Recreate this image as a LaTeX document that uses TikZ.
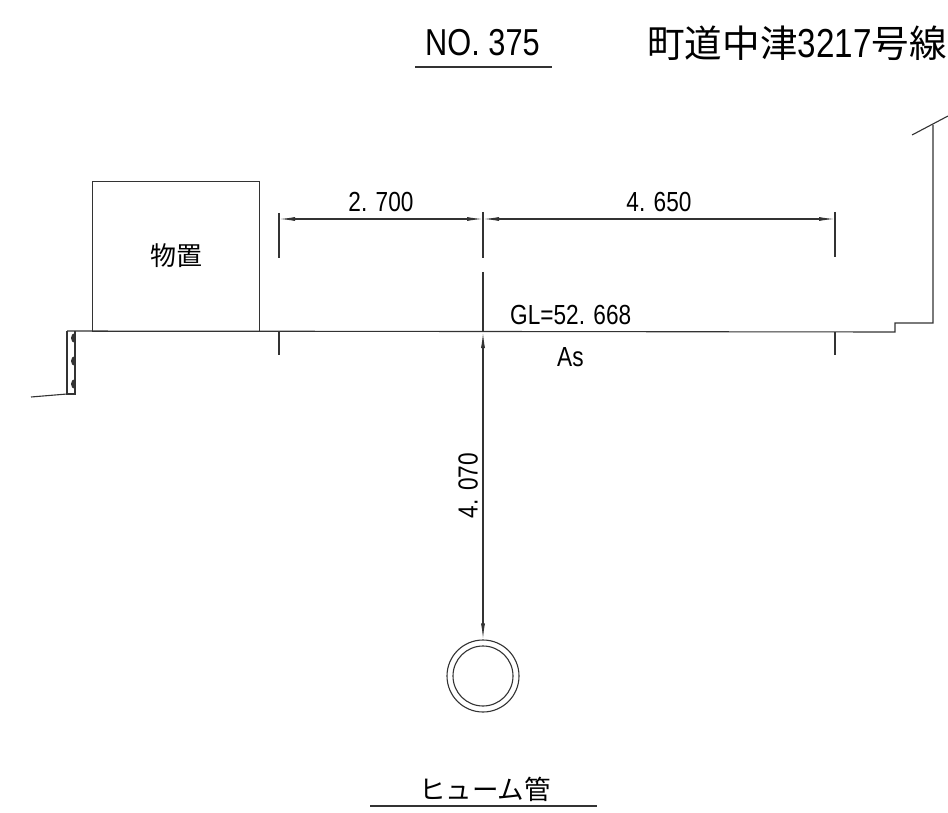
\documentclass[tikz,border=0pt]{standalone}
\usepackage{fontspec}
\setmainfont{Noto Sans CJK JP}
\newfontfamily\cadfont[FakeStretch=0.82]{Liberation Sans}
\usetikzlibrary{positioning, arrows.meta, calc}

\begin{document}
\begin{tikzpicture}[x=1pt, y=-1pt,
		myline/.style={draw=black!80, line width=1.1pt},
		dimline/.style={myline, {Latex[length=16pt,width=4pt]}-{Latex[length=16pt,width=4pt]}},
		dimtext/.style={font=\cadfont\fontsize{27.6}{27.6}\selectfont, inner sep=0pt, text=black},
		jptext/.style={inner sep=0pt, text=black}]
		
		\useasboundingbox (0,0) rectangle (948,813);
		
		% title
		\node[dimtext, font=\cadfont\fontsize{37.5}{37.5}\selectfont] at (482.5,43) (number) {NO. 375};
		\node[jptext, font=\fontsize{37.6}{37.6}\selectfont, anchor=west] at (647,43) (route) {町道中津{\cadfont\fontsize{40.5}{40.5}\selectfont 3217}号線};
		\draw[myline] (415,67) -- (552,67);
		
		% shed
		\node[myline, minimum width=167pt, minimum height=150pt, inner sep=0pt, anchor=north west] at (92,181) (shed) {};
		\node[jptext, font=\fontsize{26}{26}\selectfont] at (176.5,256) (shedtext) {物置};
		
		% ground
		\coordinate (gndL) at (67,331);
		\coordinate (gndR) at (895,332);
		\coordinate (wallT) at (933,323);
		\draw[myline] (gndL) -- (gndR) -- (895,323) -- (wallT) -- (933,125);
		\draw[myline] (912,135) -- (948,116);
		\draw[myline] (gndL) -- (67,394) -- (75,394) -- (75,331);
		\draw[myline] (31,397) -- (67,394);
		\foreach \y in {338,361,384}
		\fill[black!80] (75,\y-5) arc (90:270:4pt and 5pt) -- cycle;
		
		% dimension lines
		\coordinate (dimL) at (279,219);
		\coordinate (dimM) at (483,219);
		\coordinate (dimR) at (835,219);
		\draw[dimline] (dimL) -- (dimM) node[dimtext, midway, yshift=17pt] (distA) {2. 700};
		\draw[dimline] (dimM) -- (dimR) node[dimtext, midway, yshift=17pt] (distB) {4. 650};
		\draw[myline] (279,213) -- (279,258);
		\draw[myline] (483,212) -- (483,258);
		\draw[myline] (835,212) -- (835,257);
		\draw[myline] (279,331) -- (279,355);
		\draw[myline] (835,332) -- (835,355);
		
		% pipe
		\node[circle, myline, minimum size=72pt, inner sep=0pt] at (483,676) (pipe) {};
		\node[circle, myline, minimum size=60pt, inner sep=0pt] at (483,676) (pipeIn) {};
		\coordinate (gndM) at (483,332);
		\draw[dimline] (gndM) -- (pipe.north) node[dimtext, midway, rotate=90, yshift=15pt] (depth) {4. 070};
		\draw[myline] (483,272) -- (gndM);
		
		% labels
		\node[dimtext, anchor=west] at (510,315) (gl) {GL=52. 668};
		\node[dimtext, anchor=west] at (557,357) (as) {As};
		\node[jptext, font=\fontsize{26.5}{26.5}\selectfont] at (485,789) (pipetext) {ヒューム管};
		\draw[myline] (370,806) -- (597,806);
	\end{tikzpicture}
\end{document}
